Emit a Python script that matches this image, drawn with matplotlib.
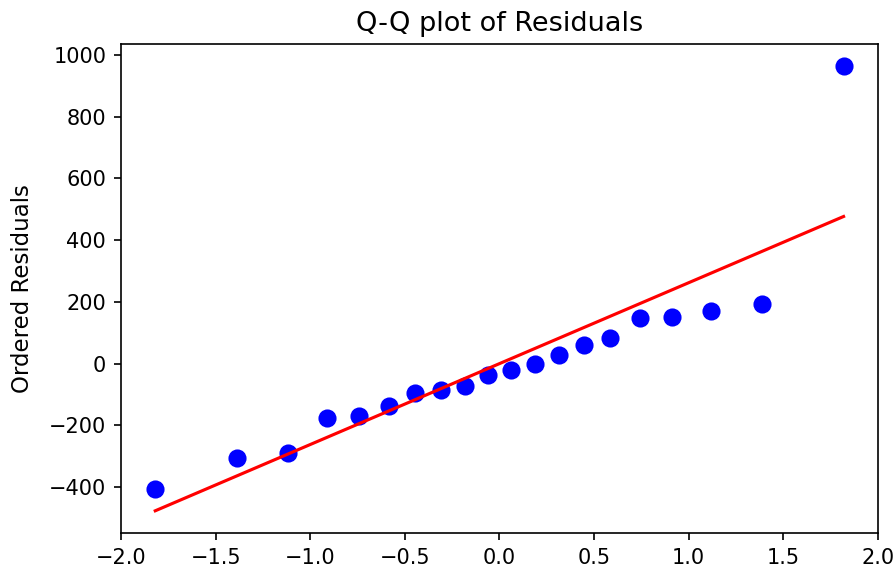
import numpy as np
import matplotlib
matplotlib.use("Agg")
import matplotlib.pyplot as plt

# theoretical quantiles (x) and ordered residuals (y)
theoretical_q = [-1.82, -1.39, -1.12, -0.91, -0.74, -0.585, -0.445, -0.31, -0.18, -0.06,
                 0.06, 0.19, 0.315, 0.447, 0.587, 0.741, 0.913, 1.119, 1.388, 1.82]
ordered_resid = [-405, -307, -291, -175, -169, -138, -95, -86, -73, -36,
                 -21, -1, 29, 60, 82, 147, 151, 172, 193, 964]

x = np.array(theoretical_q)
y = np.array(ordered_resid)
slope, intercept = np.polyfit(x, y, 1)

fig = plt.figure(figsize=(895 / 150, 575 / 150), dpi=150)
ax = fig.add_axes([0.135, 0.073, 0.846, 0.8505])
ax.plot(x, y, 'bo', markersize=7.7)
ax.plot(x, slope * x + intercept, 'r-')
ax.set_title('Q-Q plot of Residuals', fontsize=13)
ax.set_ylabel('Ordered Residuals', fontsize=11, labelpad=7)
ax.set_xticks([-2.0, -1.5, -1.0, -0.5, 0.0, 0.5, 1.0, 1.5, 2.0])
ax.set_yticks([-400, -200, 0, 200, 400, 600, 800, 1000])

fig.savefig('out.png', dpi=150)
